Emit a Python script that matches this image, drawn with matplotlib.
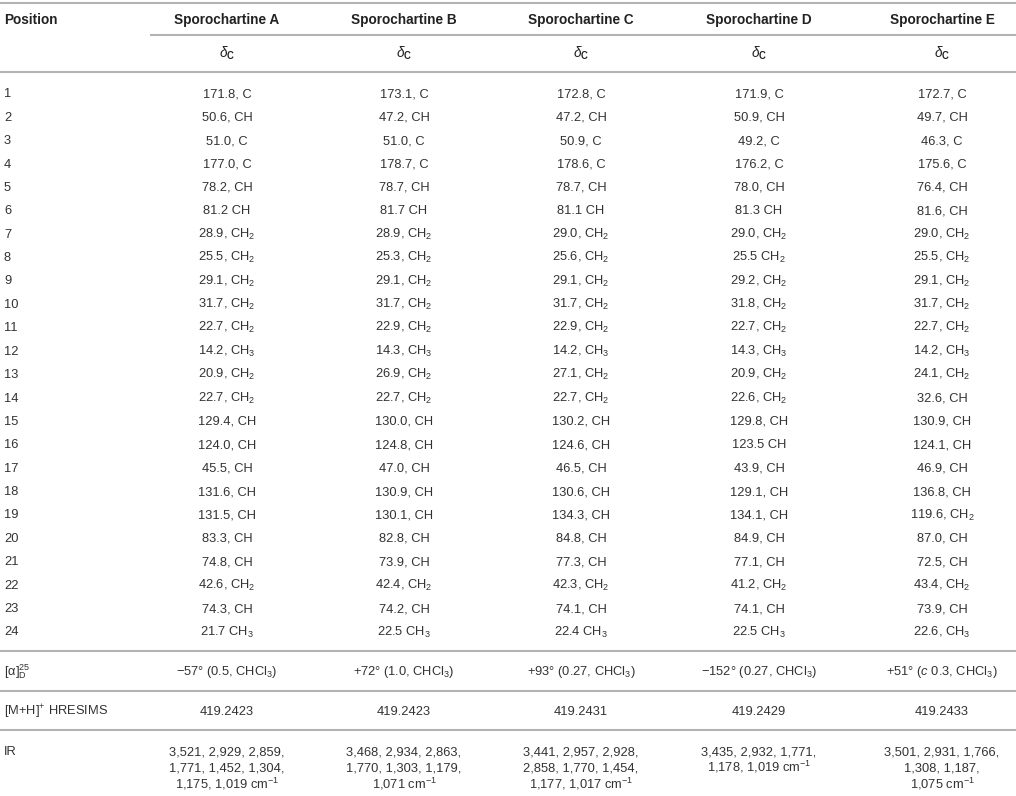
import matplotlib
matplotlib.use("Agg")
import matplotlib.pyplot as plt

plt.rcParams['font.family'] = ['Liberation Sans', 'DejaVu Sans']
plt.rcParams['mathtext.fontset'] = 'custom'
plt.rcParams['mathtext.rm'] = 'Liberation Sans'
plt.rcParams['mathtext.it'] = 'Liberation Sans:italic'
plt.rcParams['mathtext.bf'] = 'Liberation Sans:bold'

# ---- table content ----
compounds = ["Sporochartine A", "Sporochartine B", "Sporochartine C",
             "Sporochartine D", "Sporochartine E"]
positions = [str(i) for i in range(1, 25)]

shifts_A = ["171.8, C", "50.6, CH", "51.0, C", "177.0, C", "78.2, CH", "81.2 CH",
            "28.9, CH$_2$", "25.5, CH$_2$", "29.1, CH$_2$", "31.7, CH$_2$", "22.7, CH$_2$",
            "14.2, CH$_3$", "20.9, CH$_2$", "22.7, CH$_2$", "129.4, CH", "124.0, CH",
            "45.5, CH", "131.6, CH", "131.5, CH", "83.3, CH", "74.8, CH",
            "42.6, CH$_2$", "74.3, CH", "21.7 CH$_3$"]
shifts_B = ["173.1, C", "47.2, CH", "51.0, C", "178.7, C", "78.7, CH", "81.7 CH",
            "28.9, CH$_2$", "25.3, CH$_2$", "29.1, CH$_2$", "31.7, CH$_2$", "22.9, CH$_2$",
            "14.3, CH$_3$", "26.9, CH$_2$", "22.7, CH$_2$", "130.0, CH", "124.8, CH",
            "47.0, CH", "130.9, CH", "130.1, CH", "82.8, CH", "73.9, CH",
            "42.4, CH$_2$", "74.2, CH", "22.5 CH$_3$"]
shifts_C = ["172.8, C", "47.2, CH", "50.9, C", "178.6, C", "78.7, CH", "81.1 CH",
            "29.0, CH$_2$", "25.6, CH$_2$", "29.1, CH$_2$", "31.7, CH$_2$", "22.9, CH$_2$",
            "14.2, CH$_3$", "27.1, CH$_2$", "22.7, CH$_2$", "130.2, CH", "124.6, CH",
            "46.5, CH", "130.6, CH", "134.3, CH", "84.8, CH", "77.3, CH",
            "42.3, CH$_2$", "74.1, CH", "22.4 CH$_3$"]
shifts_D = ["171.9, C", "50.9, CH", "49.2, C", "176.2, C", "78.0, CH", "81.3 CH",
            "29.0, CH$_2$", "25.5 CH$_2$", "29.2, CH$_2$", "31.8, CH$_2$", "22.7, CH$_2$",
            "14.3, CH$_3$", "20.9, CH$_2$", "22.6, CH$_2$", "129.8, CH", "123.5 CH",
            "43.9, CH", "129.1, CH", "134.1, CH", "84.9, CH", "77.1, CH",
            "41.2, CH$_2$", "74.1, CH", "22.5 CH$_3$"]
shifts_E = ["172.7, C", "49.7, CH", "46.3, C", "175.6, C", "76.4, CH", "81.6, CH",
            "29.0, CH$_2$", "25.5, CH$_2$", "29.1, CH$_2$", "31.7, CH$_2$", "22.7, CH$_2$",
            "14.2, CH$_3$", "24.1, CH$_2$", "32.6, CH", "130.9, CH", "124.1, CH",
            "46.9, CH", "136.8, CH", "119.6, CH$_2$", "87.0, CH", "72.5, CH",
            "43.4, CH$_2$", "73.9, CH", "22.6, CH$_3$"]
shifts = [shifts_A, shifts_B, shifts_C, shifts_D, shifts_E]

rotation = ["\u221257\u00b0 (0.5, CHCl$_3$)", "+72\u00b0 (1.0, CHCl$_3$)",
            "+93\u00b0 (0.27, CHCl$_3$)", "\u2212152\u00b0 (0.27, CHCl$_3$)",
            "+51\u00b0 ($\\mathit{c}$ 0.3, CHCl$_3$)"]
hresims = ["419.2423", "419.2423", "419.2431", "419.2429", "419.2433"]
ir = [["3,521, 2,929, 2,859,", "1,771, 1,452, 1,304,", "1,175, 1,019 cm$^{-1}$"],
      ["3,468, 2,934, 2,863,", "1,770, 1,303, 1,179,", "1,071 cm$^{-1}$"],
      ["3,441, 2,957, 2,928,", "2,858, 1,770, 1,454,", "1,177, 1,017 cm$^{-1}$"],
      ["3,435, 2,932, 1,771,", "1,178, 1,019 cm$^{-1}$"],
      ["3,501, 2,931, 1,766,", "1,308, 1,187,", "1,075 cm$^{-1}$"]]

# ---- layout (pixels) ----
W, H = 1016, 796
col_x = [227, 404, 581, 759, 942]
left_x = 4
row0, row_step = 93, 23.4
txt_col = '#333333'
line_col = '#b3b3b3'
fs = 9.3
fs_head = 9.8
base = 4.3  # baseline offset from visual centre

fig = plt.figure(figsize=(W / 100, H / 100), dpi=100)
ax = fig.add_axes([0, 0, 1, 1])
ax.set_xlim(0, W)
ax.set_ylim(H, 0)
ax.axis('off')


def put(x, y, s, ha='center', size=fs, weight='normal', color=txt_col):
    ax.text(x, y + base, s, ha=ha, va='baseline', fontsize=size,
            fontweight=weight, color=color)


def hline(y, x0=0, x1=W):
    ax.plot([x0, x1], [y, y], color=line_col, lw=1.5, solid_capstyle='butt')


# header
hline(3)
put(left_x, 20, "Position", ha='left', size=fs_head, weight='bold', color='#222222')
for x, name in zip(col_x, compounds):
    put(x, 20, name, size=fs_head, weight='bold', color='#222222')
hline(35, 150, W)
for x in col_x:
    put(x, 53, r"$\delta_{\mathbf{C}}$", size=fs_head, color='#222222')
hline(71.5)

# body
for i, p in enumerate(positions):
    y = row0 + i * row_step
    put(left_x, y, p, ha='left')
    for x, col in zip(col_x, shifts):
        put(x, y, col[i])

hline(650.5)
put(left_x, 671, "[\u03b1]$_\\mathrm{D}^{25}$", ha='left')
for x, s in zip(col_x, rotation):
    put(x, 671, s)
hline(690.5)
put(left_x, 711, "[M+H]$^{+}$ HRESIMS", ha='left')
for x, s in zip(col_x, hresims):
    put(x, 711, s)
hline(730)
put(left_x, 751, "IR", ha='left')
for x, lines in zip(col_x, ir):
    for k, s in enumerate(lines):
        put(x, 751 + k * 16.6, s)

fig.savefig("out.png", dpi=100)
